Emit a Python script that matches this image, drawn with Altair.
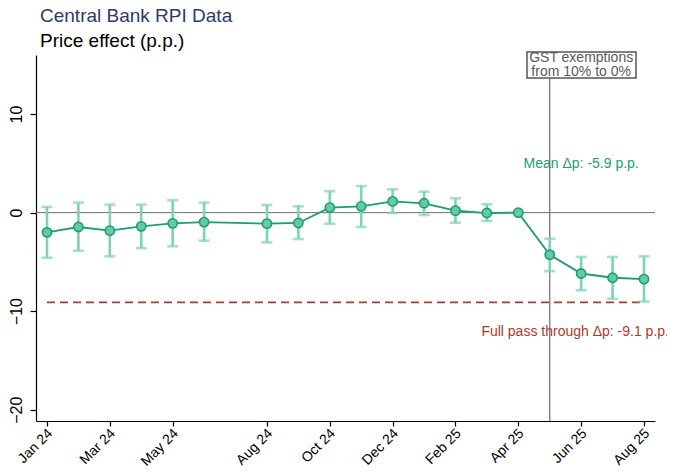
import altair as alt
import pandas as pd

# ---- data ----
month_labels = ["Jan 24", "Feb 24", "Mar 24", "Apr 24", "May 24", "Jun 24", "Jul 24",
                "Aug 24", "Sep 24", "Oct 24", "Nov 24", "Dec 24", "Jan 25", "Feb 25",
                "Mar 25", "Apr 25", "May 25", "Jun 25", "Jul 25", "Aug 25"]
obs_index = [0, 1, 2, 3, 4, 5, 7, 8, 9, 10, 11, 12, 13, 14, 15, 16, 17, 18, 19]
estimate = [-2.0, -1.46, -1.83, -1.39, -1.09, -0.96, -1.12, -1.05, 0.51, 0.64, 1.14,
            0.95, 0.2, -0.04, 0.0, -4.27, -6.18, -6.61, -6.75]
ci_high = [0.57, 1.02, 0.81, 0.81, 1.25, 1.02, 0.77, 0.64, 2.17, 2.7, 2.37,
           2.13, 1.45, 0.85, None, -2.64, -4.5, -4.5, -4.44]
ci_low = [-4.58, -3.87, -4.44, -3.6, -3.42, -2.85, -3.02, -2.68, -1.12, -1.46, -0.04,
          -0.24, -1.02, -0.85, None, -5.94, -7.88, -8.75, -9.02]
tick_values = [0, 2, 4, 7, 9, 11, 13, 15, 17, 19]
y_ticks = [-20, -10, 0, 10]
policy_month = 16
full_pass = -9.1
mean_effect = -5.9

df = pd.DataFrame({"x": obs_index, "est": estimate, "hi": ci_high, "lo": ci_low})
ci_df = df.dropna()

FONT = "Liberation Sans"
GREEN = "#1a9e77"
LIGHT = "#7dd3b4"
RED = "#b0392b"
GRAY = "#6e6e6e"

label_expr = "[" + ",".join(f"'{m}'" for m in month_labels) + "][datum.value]"

xs = alt.Scale(domain=[-0.35, 19.35], nice=False, zero=False)
ys = alt.Scale(domain=[-21.15, 16.0], nice=False, zero=False)

xaxis = alt.Axis(values=tick_values, labelExpr=label_expr, title=None, grid=False,
                 labelAngle=315, labelAlign="right", labelBaseline="top",
                 labelFontSize=14, labelFont=FONT, labelColor="black",
                 tickSize=5, tickColor="black", domainColor="black",
                 labelPadding=0, labelOffset=-2)
yaxis = alt.Axis(values=y_ticks, title=None, grid=False, labelAngle=270,
                 labelAlign="center", labelBaseline="bottom",
                 labelFontSize=16, labelFont=FONT, labelColor="black",
                 tickSize=6, tickColor="black", domainColor="black", labelPadding=6)

base = alt.Chart(df)
one = alt.Chart(pd.DataFrame({"a": [0]}))

zero_line = one.mark_rule(color=GRAY, strokeWidth=1).encode(
    y=alt.datum(0, scale=ys, axis=yaxis))

full_line = one.mark_rule(color=RED, strokeWidth=1.7, strokeDash=[8, 5]).encode(
    x=alt.datum(0, scale=xs, axis=xaxis), x2=alt.datum(19), y=alt.datum(full_pass, scale=ys))

vline = one.mark_rule(color=GRAY, strokeWidth=1.2).encode(
    x=alt.datum(policy_month, scale=xs), y=alt.value(23), y2=alt.value(366))

bars = alt.Chart(ci_df).mark_rule(color=LIGHT, strokeWidth=2.6).encode(
    x=alt.X("x:Q", scale=xs, axis=xaxis),
    y=alt.Y("lo:Q", scale=ys, axis=yaxis), y2="hi:Q")
cap_lo = alt.Chart(ci_df).mark_tick(color=LIGHT, thickness=2.6, size=11, orient="horizontal").encode(
    x=alt.X("x:Q", scale=xs), y=alt.Y("lo:Q", scale=ys))
cap_hi = alt.Chart(ci_df).mark_tick(color=LIGHT, thickness=2.6, size=11, orient="horizontal").encode(
    x=alt.X("x:Q", scale=xs), y=alt.Y("hi:Q", scale=ys))

line = base.mark_line(color=GREEN, strokeWidth=1.8).encode(
    x=alt.X("x:Q", scale=xs), y=alt.Y("est:Q", scale=ys))
pts = base.mark_point(filled=True, fill="#66c9a2", stroke=GREEN, strokeWidth=1.6,
                      size=85, opacity=1).encode(
    x=alt.X("x:Q", scale=xs), y=alt.Y("est:Q", scale=ys))

box = one.mark_rect(fill="white", stroke="#555555", strokeWidth=1.5).encode(
    x=alt.value(491), x2=alt.value(600), y=alt.value(-3), y2=alt.value(23))
box_text = one.mark_text(text=["GST exemptions", "from 10% to 0%"], font=FONT, fontSize=14,
                         color="#5a5a5a", lineHeight=14.5, baseline="middle", align="center").encode(
    x=alt.datum(17, scale=xs), y=alt.value(2.5))

mean_text = one.mark_text(text=f"Mean Δp: {mean_effect} p.p.", font=FONT, fontSize=14,
                          color=GREEN, align="center", baseline="middle").encode(
    x=alt.datum(17, scale=xs), y=alt.datum(4.9, scale=ys))
full_text = one.mark_text(text=f"Full pass through Δp: {full_pass} p.p.", font=FONT, fontSize=14,
                          color=RED, align="center", baseline="middle", dx=-6).encode(
    x=alt.datum(17, scale=xs), y=alt.datum(-12.1, scale=ys))

chart = alt.layer(
    zero_line, full_line, vline, bars, cap_lo, cap_hi, line, pts, box, box_text, mean_text, full_text
).properties(
    width=619, height=366,
    autosize=alt.AutoSizeParams(type="none"),
    padding={"left": 28, "top": 47, "right": 12, "bottom": 47},
    title=alt.TitleParams(text="Central Bank RPI Data", subtitle="Price effect (p.p.)",
                          anchor="start", frame="group", dx=4, offset=0,
                          font=FONT, fontSize=19, fontWeight="normal", color="#2b3a6b",
                          subtitleFont=FONT, subtitleFontSize=19, subtitleColor="black",
                          subtitlePadding=6)
).configure_view(stroke=None).configure_axis(domainWidth=1.2, tickWidth=1.2)

chart.save("out.html", embed_options={"renderer": "svg", "actions": False})
